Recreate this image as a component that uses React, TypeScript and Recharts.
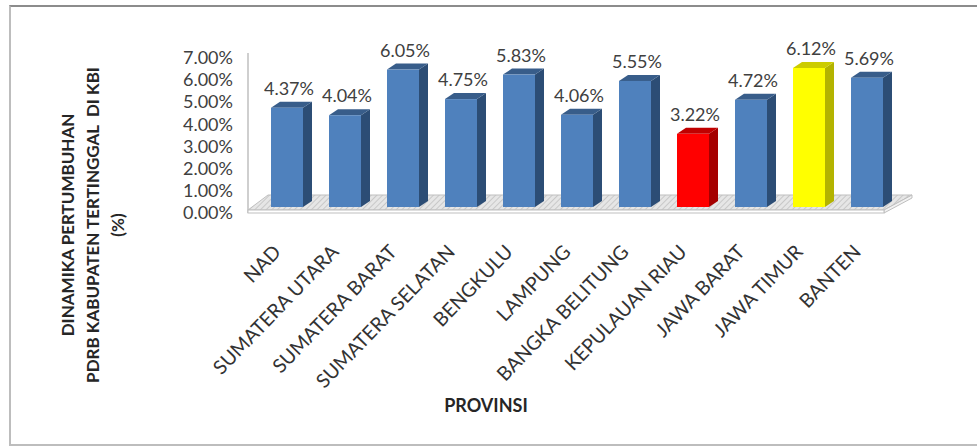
import React from 'react';
import { BarChart, Bar, XAxis, YAxis, Cell, LabelList, ReferenceArea } from 'recharts';

const provinces = [
  'NAD', 'SUMATERA UTARA', 'SUMATERA BARAT', 'SUMATERA SELATAN', 'BENGKULU', 'LAMPUNG',
  'BANGKA BELITUNG', 'KEPULAUAN RIAU', 'JAWA BARAT', 'JAWA TIMUR', 'BANTEN',
];
const growth = [4.37, 4.04, 6.05, 4.75, 5.83, 4.06, 5.55, 3.22, 4.72, 6.12, 5.69];
const yTicks = [0, 1, 2, 3, 4, 5, 6, 7];
const redProvinces = ['KEPULAUAN RIAU'];
const yellowProvinces = ['JAWA TIMUR'];

const chartData = provinces.map((name, i) => ({ name, value: growth[i] }));

const FONT = 'Lato, "Open Sans", sans-serif';
const TEXT = '#404040';

const PALETTE = {
  blue: { front: '#4F81BD', top: '#385D8A', side: '#2C4D75' },
  red: { front: '#FF0000', top: '#C00000', side: '#A50000' },
  yellow: { front: '#FFFF00', top: '#CCCC00', side: '#B3B300' },
};

const colorFor = (name: string) => {
  if (redProvinces.includes(name)) return PALETTE.red;
  if (yellowProvinces.includes(name)) return PALETTE.yellow;
  return PALETTE.blue;
};

const DX = 9;
const DY = 6;

// fake 3d column: front face, top and right side
const Column = (props: any) => {
  const { x, y, width, height, name } = props;
  if (height == null || width == null) return null;
  const c = colorFor(name);
  return (
    <g>
      <polygon
        points={`${x + width},${y} ${x + width + DX},${y - DY} ${x + width + DX},${y + height - DY} ${x + width},${y + height}`}
        fill={c.side}
      />
      <polygon
        points={`${x},${y} ${x + DX},${y - DY} ${x + width + DX},${y - DY} ${x + width},${y}`}
        fill={c.top}
      />
      <rect x={x} y={y} width={width} height={height} fill={c.front} />
    </g>
  );
};

// floor slab + left wall edge
const Floor = (props: any) => {
  const { x, y, width, height } = props;
  const B = y + height;
  const L = x - 10;
  const R = x + width - 12;
  return (
    <g>
      <defs>
        <pattern id="hatch" width="4" height="4" patternUnits="userSpaceOnUse" patternTransform="rotate(45)">
          <rect width="4" height="4" fill="#E6E6E6" />
          <line x1="0" y1="0" x2="0" y2="4" stroke="#C8C8C8" strokeWidth="2" />
        </pattern>
      </defs>
      <line x1={L} y1={y + 5} x2={L} y2={B + 6} stroke="#BFBFBF" strokeWidth={1.5} />
      <polygon
        points={`${L},${B + 3} ${x + 10},${B - 12} ${x + width + 16},${B - 12} ${R},${B + 3}`}
        fill="url(#hatch)"
        stroke="#BFBFBF"
      />
      <polygon
        points={`${R},${B + 3} ${x + width + 16},${B - 12} ${x + width + 16},${B - 9} ${R},${B + 6}`}
        fill="#F2F2F2"
        stroke="#BFBFBF"
      />
      <rect x={L} y={B + 3} width={R - L} height={3} fill="#FFFFFF" stroke="#BFBFBF" />
    </g>
  );
};

const YTick = (props: any) => {
  const { x, y, payload } = props;
  return (
    <text x={x - 17} y={y + 5 + payload.value * 0.6} textAnchor="end" dominantBaseline="central" fill={TEXT} fontSize={18} fontFamily={FONT}>
      {Number(payload.value).toFixed(2)}%
    </text>
  );
};

const XTick = (props: any) => {
  const { x, y, payload } = props;
  return (
    <g transform={`translate(${x - 5},${y + 38})`}>
      <text x={0} y={0} textAnchor="end" transform="rotate(-46)" fill="#333333" fontSize={19.5} fontFamily={FONT}>
        {payload.value}
      </text>
    </g>
  );
};

const ValueLabel = (props: any) => {
  const { x, y, width, value } = props;
  return (
    <text x={x + width / 2 + 2} y={y - 20} textAnchor="middle" dominantBaseline="central" fill={TEXT} fontSize={18} fontFamily={FONT}>
      {Number(value).toFixed(2)}%
    </text>
  );
};

export default function App() {
  return (
    <div style={{ position: 'absolute', left: 0, top: 0, width: 977, height: 446, background: '#fff', overflow: 'hidden' }}>
      <div
        style={{
          position: 'absolute', left: 9, top: 5, width: 990, height: 437,
          borderLeft: '2px solid #BDBDBD', borderTop: '2px solid #8C8C8C', borderBottom: '2px solid #BDBDBD',
        }}
      />
      <div style={{ position: 'absolute', left: 0, top: 0 }}>
        <BarChart
          width={977}
          height={446}
          data={chartData}
          margin={{ top: 48, right: 81, left: 188, bottom: 119 }}
          barSize={32}
        >
          <XAxis
            dataKey="name"
            interval={0}
            height={120}
            axisLine={false}
            tickLine={false}
            tick={<XTick />}
          />
          <YAxis
            domain={[0, 7]}
            ticks={yTicks}
            interval={0}
            width={70}
            axisLine={false}
            tickLine={false}
            tick={<YTick />}
          />
          <ReferenceArea y1={0} y2={7} shape={<Floor />} ifOverflow="visible" />
          <Bar dataKey="value" isAnimationActive={false} shape={<Column />}>
            {chartData.map((d) => (
              <Cell key={d.name} fill={colorFor(d.name).front} />
            ))}
            <LabelList dataKey="value" content={<ValueLabel />} />
          </Bar>
        </BarChart>
      </div>
      <svg style={{ position: 'absolute', left: 0, top: 0 }} width={977} height={446}>
        <g transform="translate(92,225) rotate(-90)" fontFamily={FONT} fontWeight="bold" fontSize={17} fill="#262626" textAnchor="middle">
          <text x={0} y={-25} dominantBaseline="central">DINAMIKA PERTUMBUHAN</text>
          <text x={0} y={0} dominantBaseline="central" style={{ whiteSpace: 'pre' }}>PDRB KABUPATEN TERTINGGAL  DI KBI</text>
          <text x={0} y={25} dominantBaseline="central">(%)</text>
        </g>
        <text x={486} y={405} textAnchor="middle" dominantBaseline="central" fontFamily={FONT} fontWeight="bold" fontSize={18} fill="#262626">
          PROVINSI
        </text>
      </svg>
    </div>
  );
}
